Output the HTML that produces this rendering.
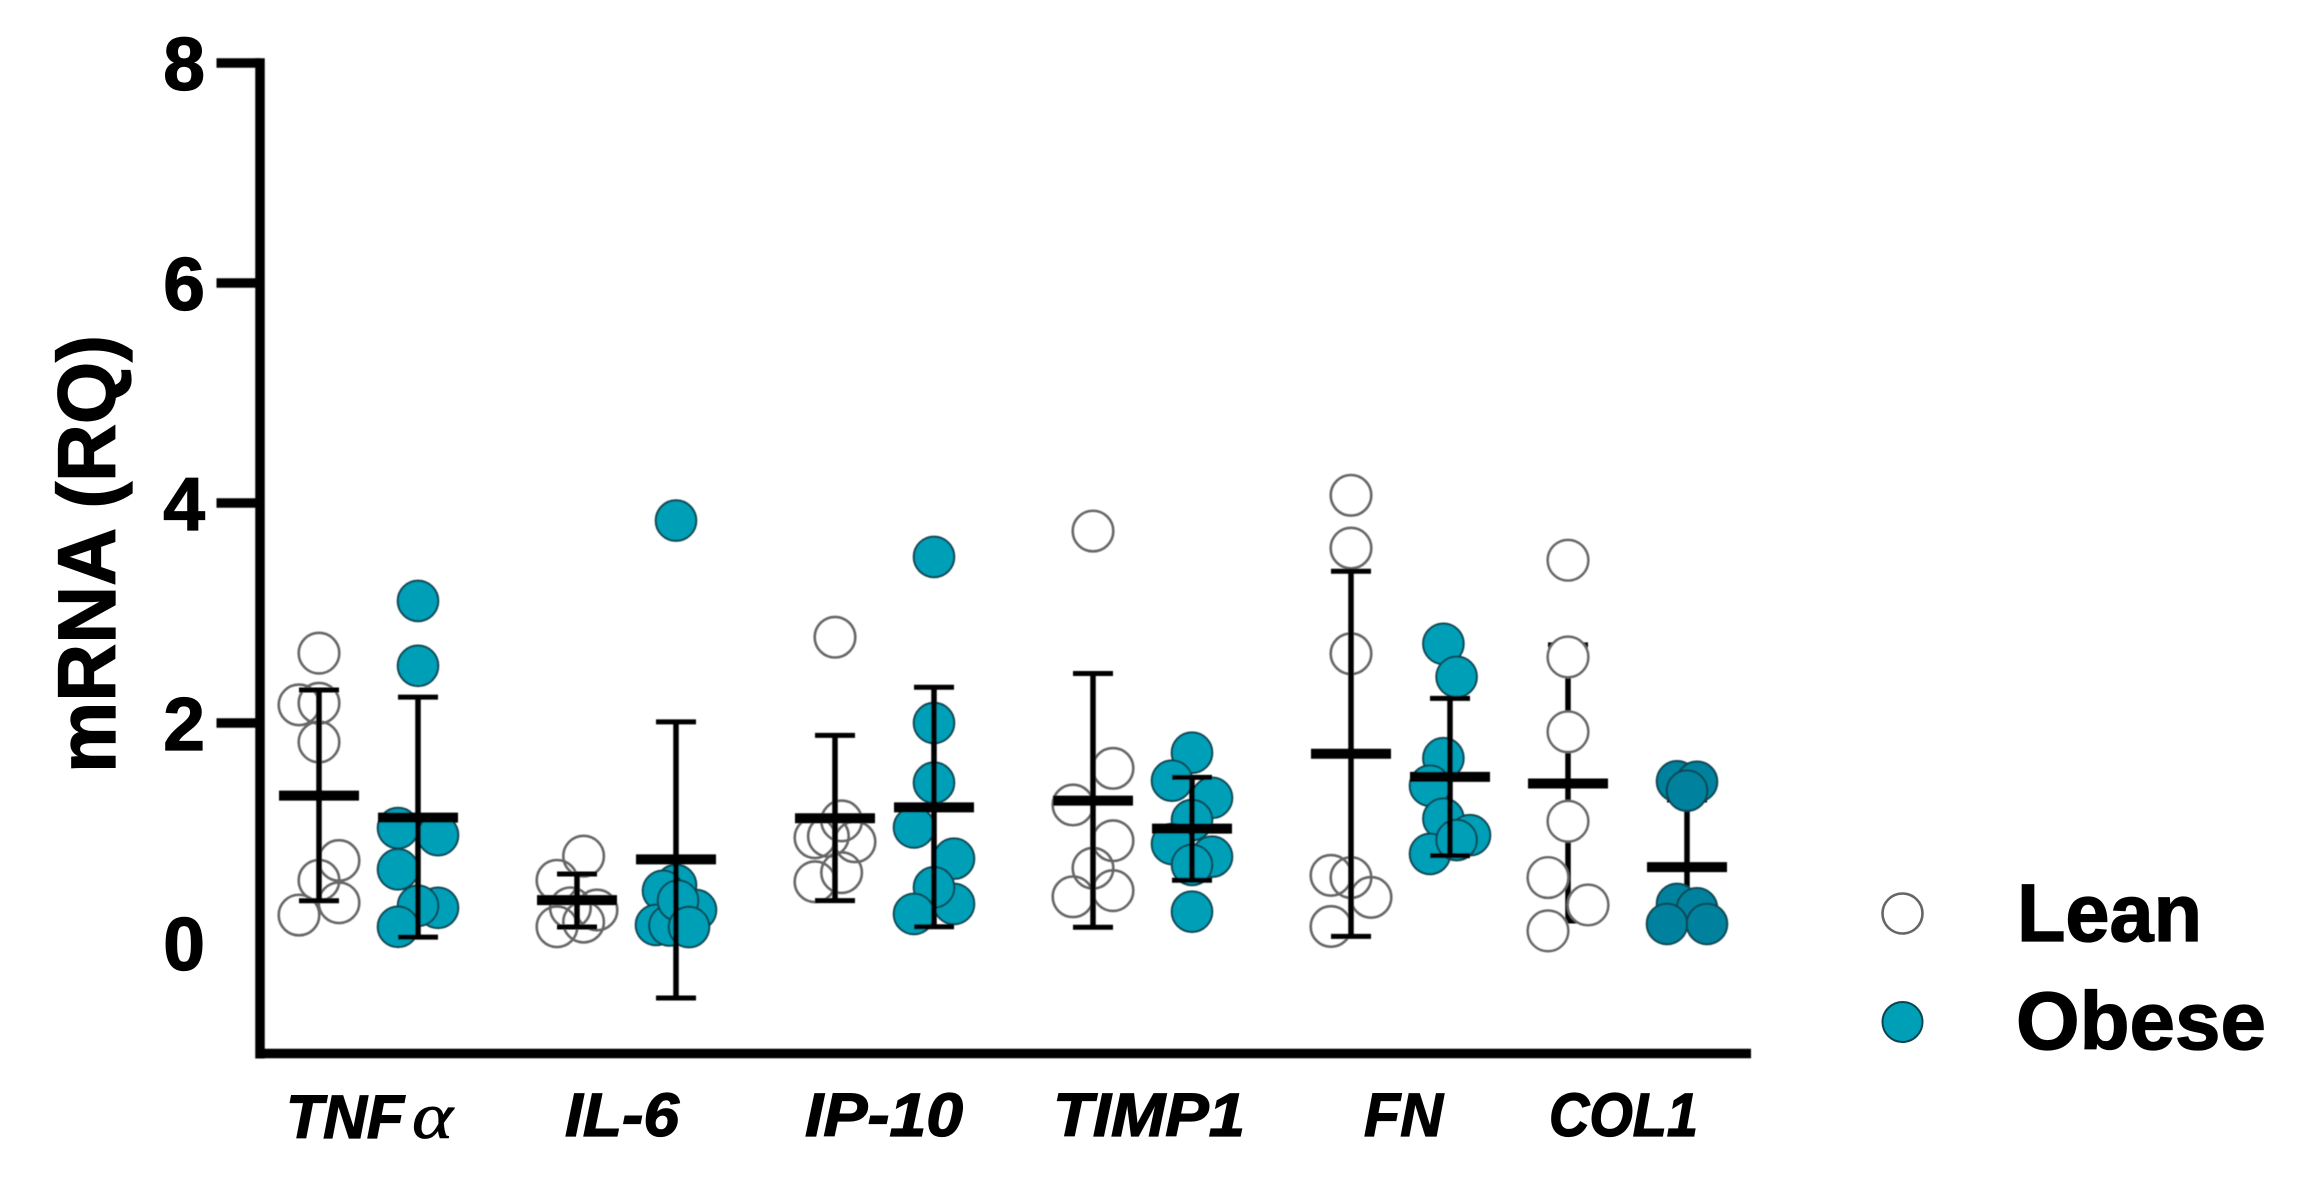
<!DOCTYPE html>
<html lang="en">
<head>
<meta charset="utf-8">
<title>mRNA expression in lean and obese groups</title>
<style>
html,body{margin:0;padding:0;background:#fff;}
body{width:2304px;height:1187px;overflow:hidden;}
svg{display:block;}
text{font-family:"Liberation Sans",sans-serif;font-weight:bold;fill:#000;stroke:#000;stroke-width:1.3px;}
</style>
</head>
<body>
<svg id="chart" xmlns="http://www.w3.org/2000/svg" width="2304" height="1187" viewBox="0 0 2304 1187">
  <rect width="2304" height="1187" fill="#fff"/>
  <g id="plot" filter="url(#soft)"></g>
  <defs><filter id="soft" x="-2%" y="-2%" width="104%" height="104%"><feGaussianBlur stdDeviation="0.5"/></filter></defs>

  <text transform="translate(115 773) rotate(-90)" font-size="82" textLength="438" lengthAdjust="spacingAndGlyphs">mRNA (RQ)</text>

  <text x="286" y="1138" font-size="61" font-style="italic" textLength="118" lengthAdjust="spacingAndGlyphs">TNF</text>
  <text x="412" y="1138" font-size="66" font-style="italic" textLength="41" lengthAdjust="spacingAndGlyphs" style="font-family:'Liberation Serif',serif;font-weight:normal;stroke-width:0.8px">α</text>
  <text x="565" y="1136" font-size="61" font-style="italic" textLength="114" lengthAdjust="spacingAndGlyphs">IL-6</text>
  <text x="805" y="1136" font-size="61" font-style="italic" textLength="158" lengthAdjust="spacingAndGlyphs">IP-10</text>
  <text x="1053" y="1136" font-size="61" font-style="italic" textLength="192" lengthAdjust="spacingAndGlyphs">TIMP1</text>
  <text x="1364" y="1136" font-size="61" font-style="italic" textLength="79" lengthAdjust="spacingAndGlyphs">FN</text>
  <text x="1549" y="1136" font-size="61" font-style="italic" textLength="149" lengthAdjust="spacingAndGlyphs">COL1</text>

  <g>
    <circle cx="1902.5" cy="913.5" r="20" fill="#fff" stroke="#666" stroke-width="2.6"/>
    <text x="2017" y="941" font-size="82" textLength="185" lengthAdjust="spacingAndGlyphs">Lean</text>
    <circle cx="1902.5" cy="1022" r="20" fill="#009fb8" stroke="#0a4450" stroke-width="2"/>
    <text x="2016" y="1049" font-size="82" textLength="250" lengthAdjust="spacingAndGlyphs">Obese</text>
  </g>
</svg>
<script>
const categories = ['TNFa', 'IL-6', 'IP-10', 'TIMP1', 'FN', 'COL1'];
const yTickLabels = [0, 2, 4, 6, 8];
const yTickMarks = [2, 4, 6, 8];

const leanValues = [
  [2.635, 2.165, 2.18, 1.827, 0.75, 0.57, 0.366, 0.254],
  [0.79, 0.57, 0.30, 0.32, 0.19, 0.148],
  [2.78, 1.11, 0.957, 0.97, 0.92, 0.64, 0.557],
  [3.745, 1.588, 1.255, 0.93, 0.68, 0.476, 0.42],
  [4.07, 3.59, 2.63, 0.615, 0.595, 0.415, 0.15],
  [3.48, 2.6, 1.92, 1.107, 0.595, 0.346, 0.11]
];
const leanSwarm = [
  [0, -1, 0, 0, 1, 0, 1, -1],
  [0.33, -1, 1, -0.33, 0.33, -1],
  [0, 0.33, -1, -0.33, 1, 0.33, -1],
  [0, 1, -1, 1, 0, 1, -1],
  [0, 0, 0, -1, 0, 1, -1],
  [0, 0, 0, 0, -1, 1, -1]
];
const leanMean = [1.34, 0.39, 1.134, 1.294, 1.72, 1.45];
const leanUpper = [2.30, 0.627, 1.888, 2.45, 3.38, 2.71];
const leanLower = [0.384, 0.145, 0.385, 0.143, 0.06, 0.20];

const obeseValues = [
  [3.11, 2.52, 1.045, 0.98, 0.67, 0.32, 0.338, 0.147],
  [3.84, 0.527, 0.475, 0.30, 0.164, 0.16, 0.385, 0.145],
  [3.51, 2.0, 1.457, 1.05, 0.767, 0.355, 0.506, 0.264],
  [1.73, 1.476, 1.32, 1.118, 0.9, 0.785, 0.285, 0.71],
  [2.72, 2.42, 1.68, 1.43, 1.13, 0.98, 0.81, 0.936],
  [1.47, 1.466, 1.385, 0.355, 0.315, 0.173, 0.173]
];
const obeseSwarm = [
  [0, 0, -1, 1, -1, 1, 0, -1],
  [0, 0, -0.65, 1, -1, -0.33, 0.1, 0.65],
  [0, 0, 0, -1, 1, 1, 0, -1],
  [0, -1, 1, 0, -1, 1, 0, 0],
  [-0.33, 0.33, -0.33, -1, -0.33, 1, -1, 0.33],
  [-0.5, 0.5, 0, -0.5, 0.5, -1, 1]
];
const obeseMean = [1.14, 0.76, 1.233, 1.04, 1.51, 0.69];
const obeseUpper = [2.235, 2.01, 2.325, 1.506, 2.224, 1.3];
const obeseLower = [0.053, -0.5, 0.148, 0.57, 0.794, 0.25];

const NS = 'http://www.w3.org/2000/svg';
const plot = document.getElementById('plot');

function yScale(v) {
  return 943 - 110 * v;
}
function xScale(cat, group) {
  let x = 319 + 258 * cat + 99 * group;
  if (cat === 5) x += group === 0 ? -41 : -21;
  return x;
}
function drawLine(x1, y1, x2, y2, width) {
  const el = document.createElementNS(NS, 'line');
  el.setAttribute('x1', x1);
  el.setAttribute('y1', y1);
  el.setAttribute('x2', x2);
  el.setAttribute('y2', y2);
  el.setAttribute('stroke', '#000');
  el.setAttribute('stroke-width', width);
  plot.appendChild(el);
  return el;
}
function drawPoints(cat, group, values, swarm) {
  const cx = xScale(cat, group);
  values.forEach(function (v, i) {
    const c = document.createElementNS(NS, 'circle');
    
    
    c.setAttribute('cx', cx + swarm[i] * 20);
    c.setAttribute('cy', yScale(v));
    c.setAttribute('r', 20.3);
    if (group === 0) {
      c.setAttribute('fill', cat === 5 ? '#fff' : 'none');
      c.setAttribute('stroke', '#666');
      c.setAttribute('stroke-width', 2.6);
    } else {
      c.setAttribute('fill', cat === 5 ? '#00829f' : '#009fb8');
      c.setAttribute('stroke', '#0a4450');
      c.setAttribute('stroke-width', 2);
    }
    plot.appendChild(c);
  });
}
function drawErrorBars(cat, group, mean, upper, lower) {
  const cx = xScale(cat, group);
  const prefix = categories[cat].toLowerCase() + (group ? '-obese' : '-lean');
  const stem = drawLine(cx, yScale(upper), cx, yScale(lower), 5.5);
  
  
  const capTop = drawLine(cx - 20, yScale(upper), cx + 20, yScale(upper), 5);
  
  
  const capBottom = drawLine(cx - 20, yScale(lower), cx + 20, yScale(lower), 5);
  
  
  const meanBar = drawLine(cx - 40, yScale(mean), cx + 40, yScale(mean), 10);
  
  
}

categories.forEach(function (name, cat) {
  const pointsOnTop = cat === 5;
  if (pointsOnTop) {
    drawErrorBars(cat, 0, leanMean[cat], leanUpper[cat], leanLower[cat]);
    drawPoints(cat, 0, leanValues[cat], leanSwarm[cat]);
    const leanMeanOver = drawLine(xScale(cat, 0) - 40, yScale(leanMean[cat]), xScale(cat, 0) + 40, yScale(leanMean[cat]), 10);
    
    
    drawErrorBars(cat, 1, obeseMean[cat], obeseUpper[cat], obeseLower[cat]);
    drawPoints(cat, 1, obeseValues[cat], obeseSwarm[cat]);
  } else {
    drawPoints(cat, 0, leanValues[cat], leanSwarm[cat]);
    drawErrorBars(cat, 0, leanMean[cat], leanUpper[cat], leanLower[cat]);
    drawPoints(cat, 1, obeseValues[cat], obeseSwarm[cat]);
    drawErrorBars(cat, 1, obeseMean[cat], obeseUpper[cat], obeseLower[cat]);
  }
});

const yAxis = drawLine(260, yScale(8) - 4.75, 260, yScale(-1) + 5.5, 9.5);


const xAxis = drawLine(255.5, yScale(-1) + 0.5, 1751, yScale(-1) + 0.5, 9.5);



yTickMarks.forEach(function (v) {
  const t = drawLine(216.5, yScale(v), 260, yScale(v), 9.5);
  
  
});
yTickLabels.forEach(function (v) {
  const label = document.createElementNS(NS, 'text');
  
  
  label.setAttribute('x', 205);
  label.setAttribute('y', yScale(v) + 27);
  label.setAttribute('font-size', 75);
  label.setAttribute('text-anchor', 'end');
  label.textContent = v;
  document.getElementById('chart').appendChild(label);
});
</script>
</body>
</html>
